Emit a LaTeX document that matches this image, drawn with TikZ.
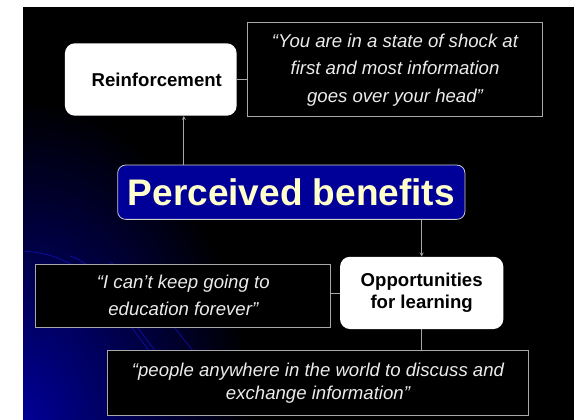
\documentclass[tikz,border=0pt]{standalone}
\usepackage{fontspec}
\setmainfont{Liberation Sans}
\usepackage{tikz}
\definecolor{slideblue}{HTML}{000099}
\definecolor{paleyellow}{HTML}{FFFFCC}
\definecolor{framegray}{HTML}{A8A8A8}
\definecolor{streak}{HTML}{1010B8}

\begin{document}
\begin{tikzpicture}[x=1pt,y=-1pt,>=stealth]
                \tikzstyle{concept}=[rectangle,rounded corners=10pt,fill=white,text=black,inner sep=0pt,font=\bfseries\fontsize{18.6}{22}\selectfont,align=center]
                \tikzstyle{quote}=[rectangle,draw=framegray,line width=1pt,fill=black,text=white!92!black,inner sep=0pt,font=\itshape\fontsize{18.6}{27.5}\selectfont,align=center]
                \tikzstyle{headline}=[rectangle,rounded corners=8pt,draw=white!80!black,line width=0.8pt,fill=slideblue,text=paleyellow,inner sep=0pt,font=\bfseries\fontsize{37}{40}\selectfont]
                \tikzstyle{link}=[draw=framegray,line width=0.8pt]
                \useasboundingbox (0,0) rectangle (574,420);

                % slide background
                \fill[white] (-5,-5) rectangle (580,425);
                \fill[black] (23,7) rectangle (580,425);
                \begin{scope}
                    \clip (23,7) rectangle (580,425);
                    \shade[inner color=slideblue,outer color=black] (23,428) ellipse (230 and 330);
                    \foreach \sx/\sy/\ax/\ay/\bx/\by/\ex in {23/251/85/255/105/292/150, 70/256/100/266/114/298/156, 110/262/140/282/162/312/194}
                        \draw[streak,line width=0.6pt] (\sx,\sy) .. controls (\ax,\ay) and (\bx,\by) .. (\ex,352);
                \end{scope}

                \node[concept,minimum width=171.7pt,minimum height=72.4pt] (reinf) at (150.8,79.5) {\hspace*{12pt}Reinforcement};
                \node[quote,minimum width=295.4pt,minimum height=94pt] (shock) at (395,69.7) {“You are in a state of shock at\\first and most information\\goes over your head”};
                \node[headline,minimum width=347.3pt,minimum height=54.3pt] (benefits) at (291.3,192.2) {Perceived benefits};
                \node[concept,minimum width=163.3pt,minimum height=72.3pt] (learning) at (421.7,292.9) {Opportunities\\for learning};
                \node[quote,minimum width=295.3pt,minimum height=63pt,font=\itshape\fontsize{18.6}{26.6}\selectfont] (forever) at (183.3,295.5) {“I can’t keep going to\\education forever”};
                \node[quote,minimum width=421.4pt,minimum height=64.5pt,font=\itshape\fontsize{18.6}{23.5}\selectfont] (world) at (318,383.2) {“people anywhere in the world to discuss and\\exchange information”};

                \coordinate (reinfport) at ([xshift=33pt]reinf.south);
                \draw[link,->] (reinfport |- benefits.north) -- (reinfport);
                \draw[link,->] (learning.north |- benefits.south) -- (learning.north);
                \draw[link] (reinf.east) -- (reinf.east -| shock.west);
                \draw[link] (learning.west) -- (learning.west -| forever.east);
                \draw[link] (learning.south) -- (learning.south |- world.north);
            \end{tikzpicture}
\end{document}
